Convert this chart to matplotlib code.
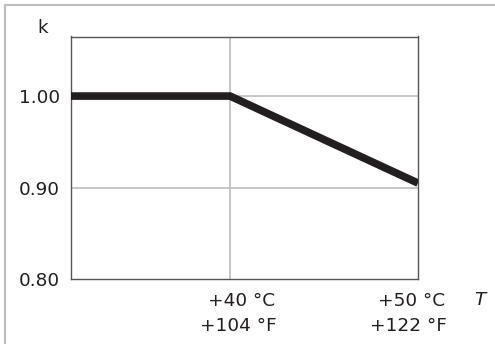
import matplotlib
matplotlib.use("Agg")
import matplotlib.pyplot as plt
from matplotlib.lines import Line2D

# Data
temps_c = [31.54, 40, 50]
k_values = [1.00, 1.00, 0.905]
x_ticks = [40, 50]
x_labels_c = ["+40 °C", "+50 °C"]
x_labels_f = ["+104 °F", "+122 °F"]
y_ticks = [0.80, 0.90, 1.00]
y_labels = ["0.80", "0.90", "1.00"]

W, H = 495, 344
fig = plt.figure(figsize=(W / 100, H / 100), dpi=100)
ax = fig.add_axes([71 / W, 1 - 279.3 / H, (418 - 71) / W, (279.3 - 36.5) / H])

txt = "#231f20"
fs = 13.3
ax.set_xlim(31.54, 50)
ax.set_ylim(0.80, 1.065)

# grid lines
ax.axvline(40, color="#c2c2c2", lw=1.3, zorder=1)
ax.axhline(1.00, color="#c2c2c2", lw=1.3, zorder=1)
ax.axhline(0.90, color="#c2c2c2", lw=1.3, zorder=1)

ax.plot(temps_c, k_values, color="#231f20", lw=5.5, solid_joinstyle="miter",
        solid_capstyle="butt", zorder=3)

for s in ax.spines.values():
    s.set_color("#555555")
    s.set_linewidth(1.0)

ax.set_yticks(y_ticks)
ax.set_yticklabels(y_labels, fontsize=fs, color=txt)
ax.tick_params(axis="y", length=0, pad=8)
ax.set_xticks(x_ticks)
ax.set_xticklabels(["", ""])
ax.tick_params(axis="x", length=0)

# x labels (two rows)
offsets = [45, 27]
for xv, lc, lf, off in zip(x_ticks, x_labels_c, x_labels_f, offsets):
    ax.annotate(lc, xy=(xv, 0.80), xycoords="data", xytext=(off * 0.72, -21.5 * 0.72),
                textcoords="offset points", ha="right", va="center", fontsize=fs, color=txt)
    ax.annotate(lf, xy=(xv, 0.80), xycoords="data", xytext=(off * 0.72 + 1.5 * 0.72, -47 * 0.72),
                textcoords="offset points", ha="right", va="center", fontsize=fs, color=txt)

fig.text(43 / W, 1 - 28 / H, "k", fontsize=fs, color=txt, ha="center", va="center")
fig.text(480 / W, 1 - 300 / H, "T", fontsize=fs, color=txt, ha="center", va="center",
         style="italic")

# outer frame (top and left)
fig.add_artist(Line2D([5 / W, 5 / W, 1], [0, 1 - 5 / H, 1 - 5 / H], color="#bdbdbd",
                      lw=1.5, transform=fig.transFigure))

fig.savefig("out.png", dpi=100)
